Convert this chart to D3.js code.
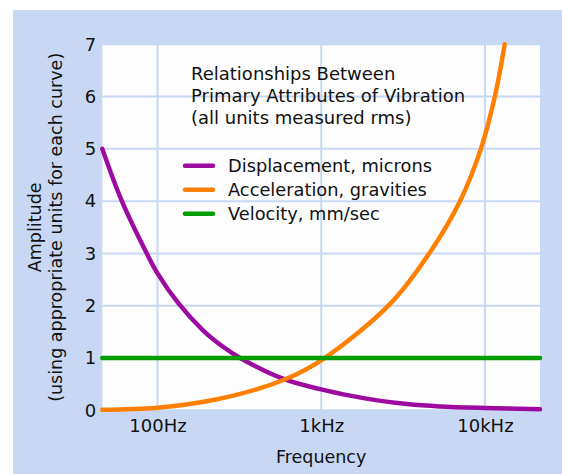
<!DOCTYPE html>
<html><head><meta charset="utf-8">
<script src="https://cdn.jsdelivr.net/npm/d3@7"></script>
<style>
html,body{margin:0;padding:0;background:#fff;}
svg{display:block;font-family:"DejaVu Sans",sans-serif;}
</style></head>
<body>
<svg id="chart" width="562" height="474"></svg>
<script>
// ---- data ----
const xTickValues = [100, 1000, 10000];
const xTickLabels = ["100Hz", "1kHz", "10kHz"];
const yTickValues = [0, 1, 2, 3, 4, 5, 6, 7];
const titleLines = ["Relationships Between", "Primary Attributes of Vibration", "(all units measured rms)"];
const seriesNames = ["Displacement, microns", "Acceleration, gravities", "Velocity, mm/sec"];
const seriesColors = ["#9c0aa0", "#ff8000", "#009c00"];

const dispFreq = [46, 60.6, 86, 100, 134, 191, 250, 320, 588, 1000, 1500, 2200, 3340, 5300, 10000, 21700];
const dispVal  = [5.0, 4.0, 3.0, 2.62, 2.05, 1.52, 1.22, 1.0, 0.60, 0.40, 0.28, 0.19, 0.12, 0.075, 0.045, 0.022];
const accFreq  = [46, 100, 231, 588, 1050, 2700, 4610, 7040, 9450, 11500, 13200];
const accVal   = [0.01, 0.05, 0.21, 0.58, 1.0, 2.07, 3.02, 4.0, 5.0, 6.0, 7.0];
const velFreq  = [46, 21700];
const velVal   = [1, 1];

// ---- layout ----
const svg = d3.select("#chart");
const W = 562, H = 474;
const bg = "#c8d8f4";
const plot = {left: 102.3, right: 540, top: 44.3, bottom: 410.3};

svg.append("rect").attr("x", 13).attr("y", 10).attr("width", W - 13).attr("height", H - 10).attr("fill", bg);

const x = d3.scaleLog().domain([46, 21700]).range([plot.left, plot.right]);
const y = d3.scaleLinear().domain([0, 7]).range([plot.bottom, plot.top]);

svg.append("rect").attr("x", plot.left).attr("y", plot.top)
  .attr("width", plot.right - plot.left).attr("height", plot.bottom - plot.top).attr("fill", "#fdfdfe");

// grid
const grid = svg.append("g");
grid.selectAll("line.h").data(yTickValues).join("line")
  .attr("x1", plot.left).attr("x2", plot.right)
  .attr("y1", d => y(d)).attr("y2", d => y(d))
  .attr("stroke", bg).attr("stroke-width", 2);
grid.selectAll("line.v").data(xTickValues).join("line")
  .attr("y1", plot.top).attr("y2", plot.bottom)
  .attr("x1", d => x(d)).attr("x2", d => x(d))
  .attr("stroke", bg).attr("stroke-width", 2);

// axes (labels only)
const xAxis = d3.axisBottom(x).tickValues(xTickValues).tickFormat((d, i) => xTickLabels[i]).tickSize(0).tickPadding(9);
const gx = svg.append("g").attr("transform", `translate(0,${plot.bottom})`).call(xAxis);
gx.select(".domain").remove();
gx.selectAll("text").attr("font-size", 18).attr("fill", "#111").attr("font-family", "DejaVu Sans");

const yAxis = d3.axisLeft(y).tickValues(yTickValues).tickFormat(d3.format("d")).tickSize(0).tickPadding(6);
const gy = svg.append("g").attr("transform", `translate(${plot.left},0)`).call(yAxis);
gy.select(".domain").remove();
gy.selectAll("text").attr("font-size", 18).attr("fill", "#111").attr("font-family", "DejaVu Sans");

// axis titles
svg.append("text").attr("x", (plot.left + plot.right) / 2).attr("y", 463)
  .attr("text-anchor", "middle").attr("font-size", 17.5).attr("fill", "#111").text("Frequency");
const cy = (plot.top + plot.bottom) / 2;
svg.append("text").attr("transform", `translate(41,${cy}) rotate(-90)`)
  .attr("text-anchor", "middle").attr("font-size", 17.5).attr("fill", "#111").text("Amplitude");
svg.append("text").attr("transform", `translate(62,${cy}) rotate(-90)`)
  .attr("text-anchor", "middle").attr("font-size", 17.5).attr("fill", "#111").text("(using appropriate units for each curve)");

// curves
const line = d3.line().x(d => x(d[0])).y(d => y(d[1])).curve(d3.curveCatmullRom.alpha(0.5));
const series = [
  d3.zip(dispFreq, dispVal),
  d3.zip(accFreq, accVal),
  d3.zip(velFreq, velVal)
];
svg.append("g").selectAll("path").data(series).join("path")
  .attr("d", line).attr("fill", "none")
  .attr("stroke", (d, i) => seriesColors[i]).attr("stroke-width", 4.5)
  .attr("stroke-linecap", "round").attr("stroke-linejoin", "round");

// title
svg.append("g").selectAll("text").data(titleLines).join("text")
  .attr("x", 191).attr("y", (d, i) => 79.5 + i * 22)
  .attr("font-size", 18).attr("fill", "#111").text(d => d);

// legend
const leg = svg.append("g").selectAll("g").data(seriesNames).join("g")
  .attr("transform", (d, i) => `translate(185,${165.7 + i * 24})`);
leg.append("line").attr("x1", 0).attr("x2", 28).attr("y1", 0).attr("y2", 0)
  .attr("stroke", (d, i) => seriesColors[i]).attr("stroke-width", 4.5).attr("stroke-linecap", "round");
leg.append("text").attr("x", 43).attr("y", 6).attr("font-size", 17.8).attr("fill", "#111").text(d => d);
</script>
</body></html>
